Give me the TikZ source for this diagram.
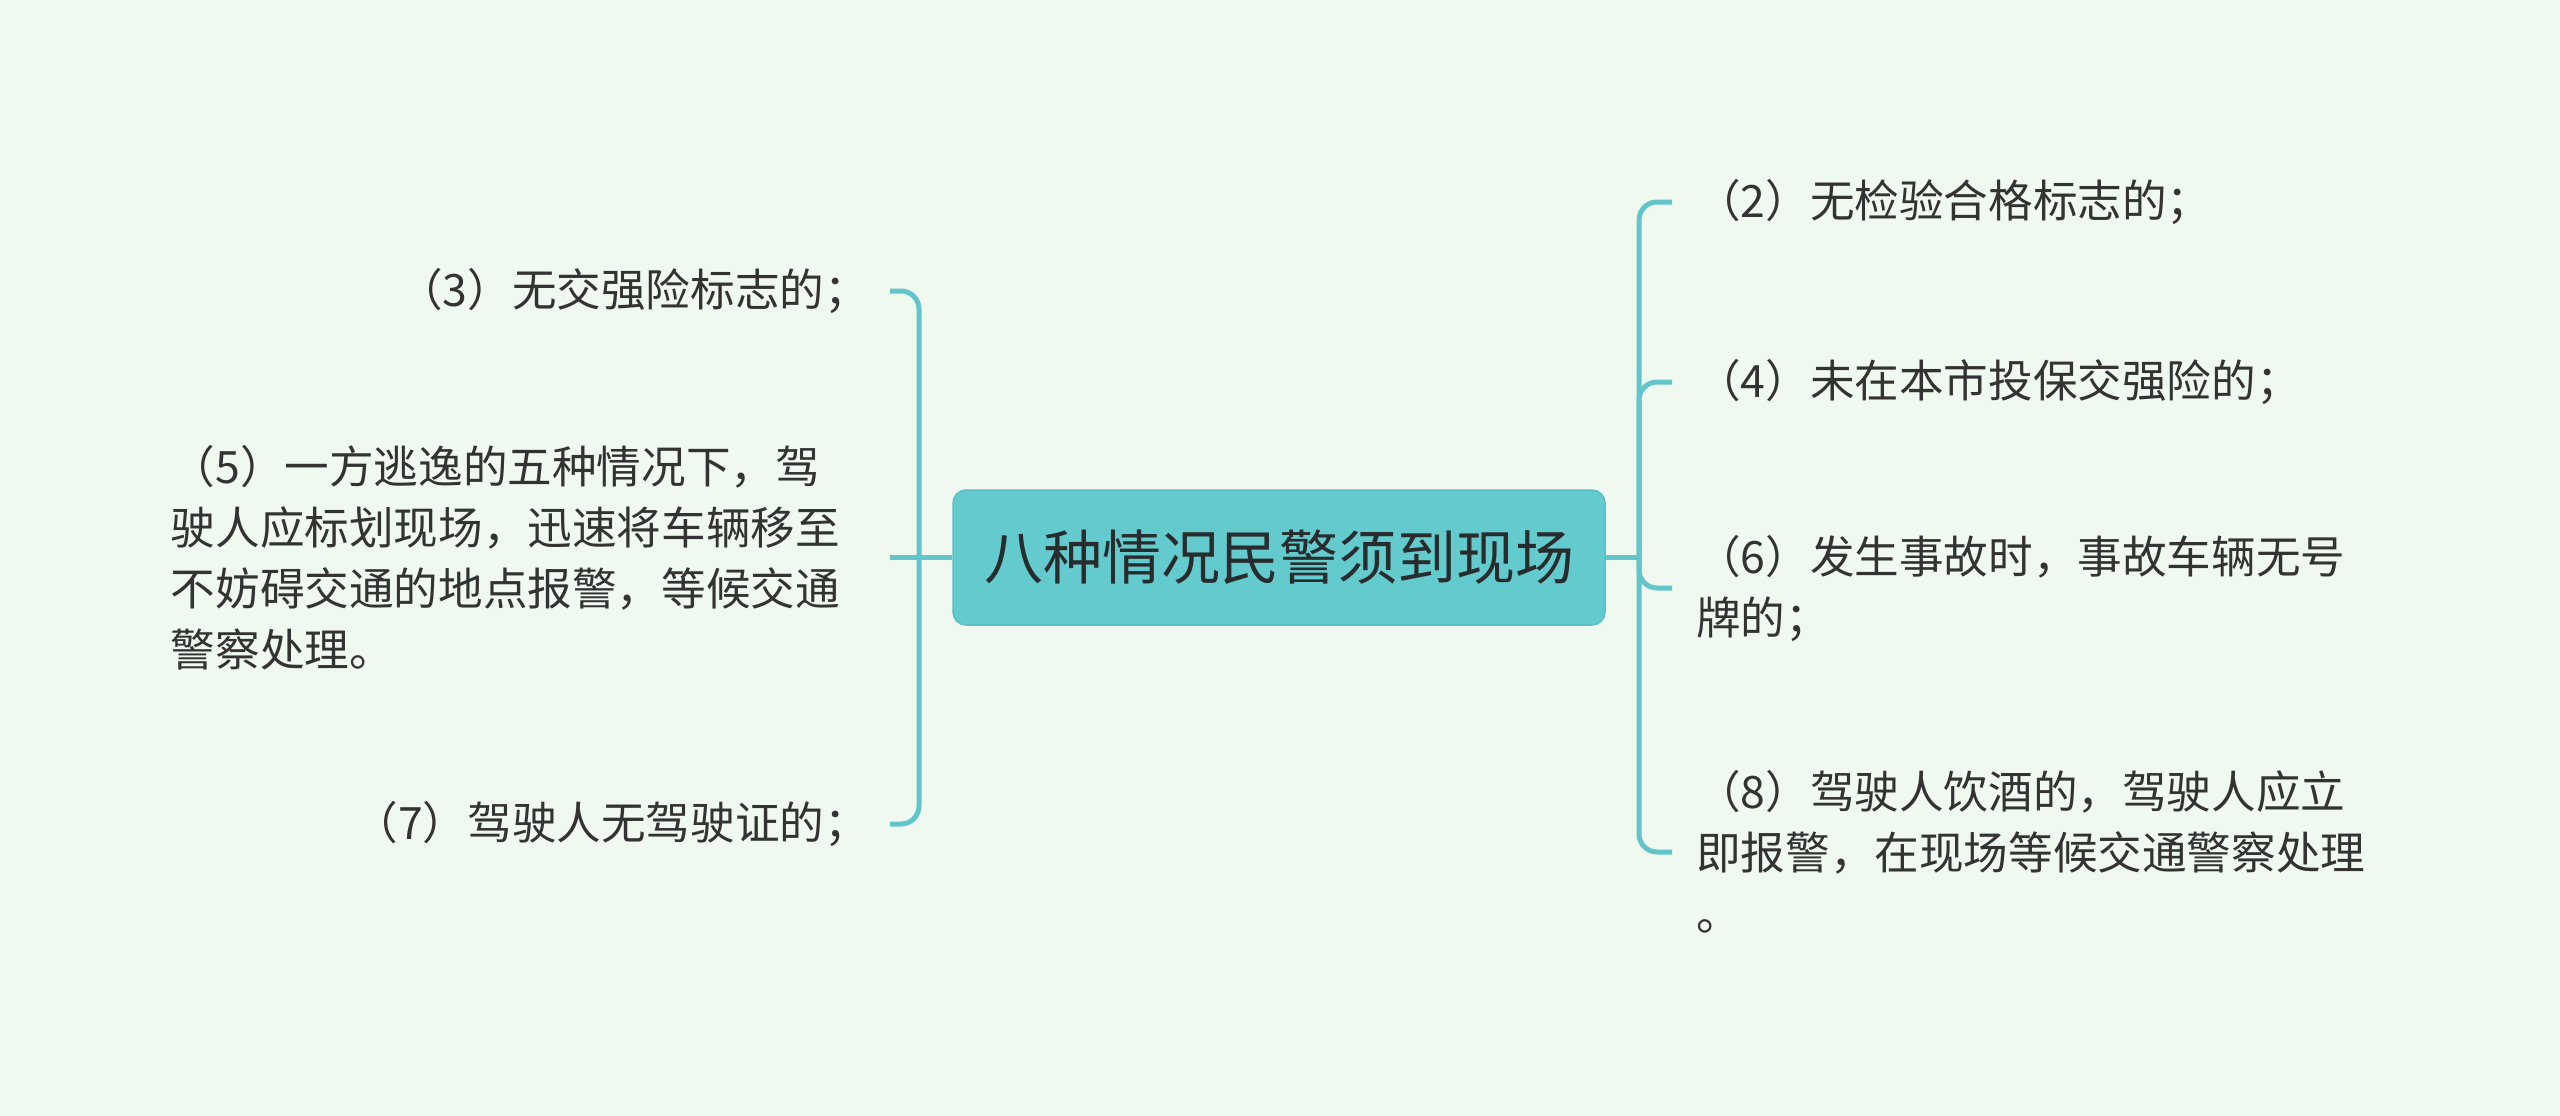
\documentclass[tikz,border=0pt]{standalone}
\usepackage{fontspec}
\setmainfont{Noto Sans CJK SC}
\definecolor{bg}{RGB}{240,249,240}
\definecolor{boxc}{RGB}{99,203,206}
\definecolor{boxb}{RGB}{90,190,196}
\definecolor{linec}{RGB}{98,197,201}
\definecolor{txt}{RGB}{51,51,51}
\definecolor{rtxt}{RGB}{40,44,44}
\begin{document}
\begin{tikzpicture}[x=1pt,y=-1pt,
  conn/.style={draw=linec, line width=5pt, rounded corners=18pt},
  leaf/.style={text=txt, font=\fontsize{44.6}{61}\selectfont, inner ysep=4pt, align=left},
  leafL/.style={leaf, anchor=east, inner xsep=21pt},
  leafR/.style={leaf, anchor=west, inner xsep=24pt},
  root/.style={fill=boxc, draw=boxb, line width=1.5pt, rounded corners=13pt,
    minimum width=652pt, minimum height=135pt, inner sep=0pt,
    font=\fontsize{59}{70}\selectfont, text=rtxt}]
\fill[bg] (0,0) rectangle (2560,1116);
\useasboundingbox (0,0) rectangle (2560,1116);

\node[root] (root) at (1279,557.5) {八种情况民警须到现场};
\coordinate (jL) at (919,557.5);
\coordinate (jR) at (1639,557.5);

\node[leafL] (t3) at (890,291) {（3）无交强险标志的；};
\node[leafL, text width=698pt] (t5) at (890,557.5) {（5）一方逃逸的五种情况下，驾\\驶人应标划现场，迅速将车辆移至\\不妨碍交通的地点报警，等候交通\\警察处理。};
\node[leafL] (t7) at (890,824) {（7）驾驶人无驾驶证的；};

\node[leafR] (t2) at (1672,202) {（2）无检验合格标志的；};
\node[leafR] (t4) at (1672,382) {（4）未在本市投保交强险的；};
\node[leafR] (t6) at (1672,588) {（6）发生事故时，事故车辆无号\\牌的；};
\node[leafR] (t8) at (1672,852) {（8）驾驶人饮酒的，驾驶人应立\\即报警，在现场等候交通警察处理\\。};

\draw[conn] (root.west) -- (jL);
\draw[conn] (jL) |- (t3.east);
\draw[conn] (jL) -- (t5.east);
\draw[conn] (jL) |- (t7.east);
\draw[conn] (root.east) -- (jR);
\draw[conn] (jR) |- (t2.west);
\draw[conn] (jR) |- (t4.west);
\draw[conn] (jR) |- (t6.west);
\draw[conn] (jR) |- (t8.west);
\end{tikzpicture}
\end{document}
